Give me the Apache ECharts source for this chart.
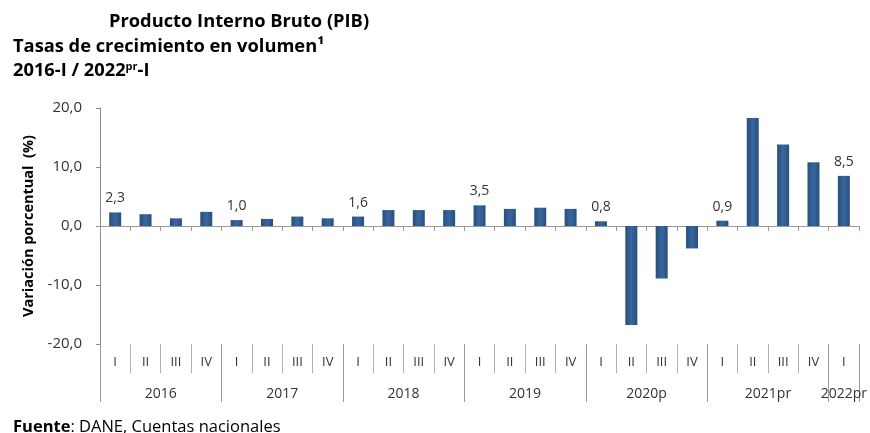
<!DOCTYPE html>
<html><head><meta charset="utf-8">
<script src="https://cdn.jsdelivr.net/npm/echarts@6/dist/echarts.min.js"></script>
<style>html,body{margin:0;padding:0;background:#fff}#c{width:870px;height:433px}</style>
</head><body><div id="c"></div>
<script>
const quarters = ['I','II','III','IV','I','II','III','IV','I','II','III','IV','I','II','III','IV','I','II','III','IV','I','II','III','IV','I'];
const values = [2.3,2.0,1.3,2.4, 1.0,1.2,1.6,1.3, 1.6,2.7,2.7,2.7, 3.5,2.9,3.1,2.9, 0.8,-16.8,-8.9,-3.8, 0.9,18.3,13.8,10.8, 8.5];
// years axis on half-quarter points (0..50); labels sit in the middle of each year
const yearNames = ['2016','2017','2018','2019','2020p','2021pr','2022pr'];
const yearLabelPoints = [4,12,20,28,36,44,49];

const FONT = 'Open Sans';
const halfPts = [];
for (let k = 0; k <= 50; k++) {
  const yi = yearLabelPoints.indexOf(k);
  halfPts.push(yi >= 0 ? yearNames[yi] : '');
}
const fmt = v => v.toFixed(1).replace('.', ',');

const chart = echarts.init(document.getElementById('c'), null, {renderer: 'canvas'});
chart.setOption({
  animation: false,
  textStyle: {fontFamily: FONT},
  title: [
    {text: 'Producto Interno Bruto (PIB)', left: 104, top: 8, textStyle: {fontFamily: FONT, fontSize: 18.3, fontWeight: 'bold', color: '#000'}},
    {text: 'Tasas de crecimiento en volumen¹', left: 8, top: 33, textStyle: {fontFamily: FONT, fontSize: 18.3, fontWeight: 'bold', color: '#000'}},
    {text: '{a|2016-I / 2022}{s|pr}{a|-I}', left: 8, top: 56, textStyle: {rich: {
      a: {fontFamily: FONT, fontSize: 18.3, fontWeight: 'bold', color: '#000'},
      s: {fontFamily: FONT, fontSize: 11, fontWeight: 'bold', color: '#000', verticalAlign: 'top', padding: [0,0,8,0]}
    }}},
    {text: '{b|Fuente}: DANE, Cuentas nacionales', left: 8, top: 414, textStyle: {fontFamily: FONT, fontSize: 16.5, color: '#000', fontWeight: 'normal', rich: {
      b: {fontFamily: FONT, fontSize: 16.5, fontWeight: 'bold', color: '#000'}
    }}}
  ],
  grid: {left: 100, right: 8, top: 108, bottom: 89, containLabel: false},
  yAxis: {
    type: 'value', min: -20, max: 20, interval: 10,
    name: 'Variación porcentual  (%)', nameLocation: 'middle', nameGap: 62,
    nameTextStyle: {fontFamily: FONT, fontSize: 14.5, fontWeight: 'bold', color: '#000'},
    axisLine: {show: true, lineStyle: {color: '#8c8c8c', width: 1}},
    axisTick: {show: true, length: 4, lineStyle: {color: '#8c8c8c'}},
    splitLine: {show: false},
    axisLabel: {margin: 18, fontSize: 15, color: '#333', formatter: v => fmt(v)}
  },
  xAxis: [
    {type: 'category', data: quarters, position: 'bottom',
      axisLine: {onZero: true, lineStyle: {color: '#9a9a9a', width: 1}},
      axisTick: {show: true, length: 5, inside: false, alignWithLabel: false, interval: 0, lineStyle: {color: '#9a9a9a'}},
      axisLabel: {show: false}},
    {type: 'category', data: quarters, position: 'bottom', offset: 0,
      axisLine: {show: false, onZero: false},
      axisTick: {show: true, length: 29, interval: 0, alignWithLabel: false, lineStyle: {color: '#b0b0b0'}},
      axisLabel: {show: true, interval: 0, margin: 12, fontSize: 13, color: '#333'}},
    {type: 'category', data: halfPts, boundaryGap: false, position: 'bottom', offset: 0,
      axisLine: {show: false, onZero: false},
      axisTick: {show: true, length: 58, interval: (i) => i % 8 === 0 || i === 50, lineStyle: {color: '#9a9a9a'}},
      axisLabel: {show: true, interval: 0, margin: 43, fontSize: 14, color: '#333'}}
  ],
  series: [{
    type: 'bar', xAxisIndex: 0, yAxisIndex: 0, barWidth: 12,
    itemStyle: {color: new echarts.graphic.LinearGradient(0, 0, 1, 0, [
      {offset: 0, color: '#284f7c'}, {offset: 0.5, color: '#3866a0'}, {offset: 1, color: '#284f7c'}
    ])},
    data: values.map((v, i) => ({
      value: v,
      label: {show: quarters[i] === 'I', position: 'top', distance: 7, fontSize: 14, color: '#333', formatter: p => fmt(p.value)}
    }))
  }]
});
</script></body></html>
